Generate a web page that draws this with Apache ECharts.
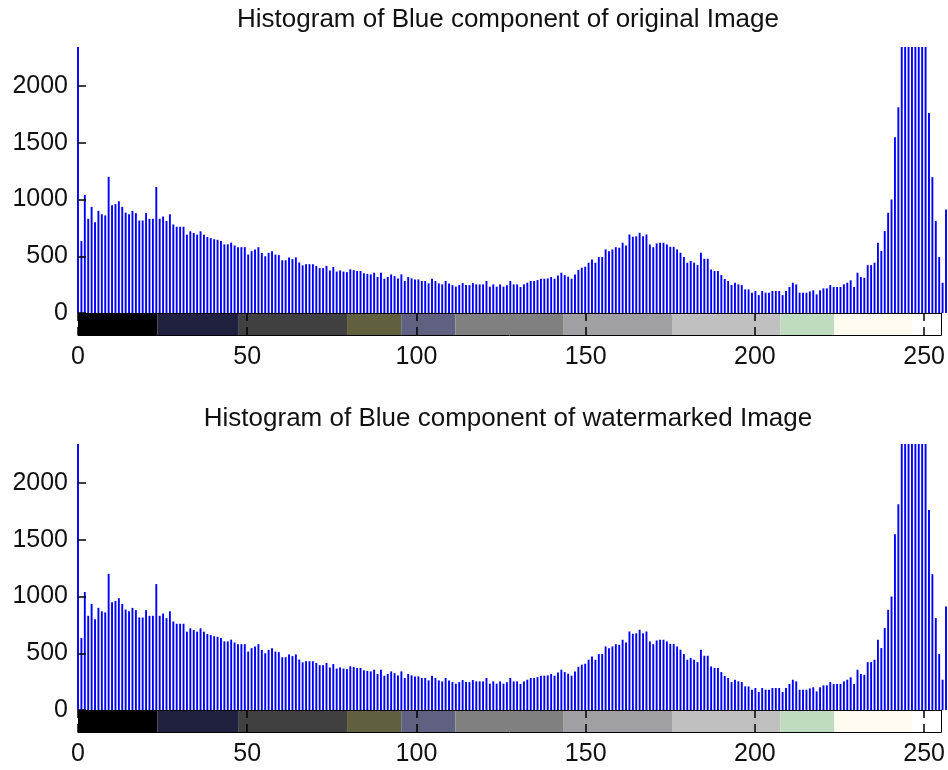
<!DOCTYPE html>
<html>
<head>
<meta charset="utf-8">
<script src="https://cdn.jsdelivr.net/npm/echarts@6/dist/echarts.min.js"></script>
<style>
  html, body { margin: 0; padding: 0; background: #fff; overflow: hidden; }
  #chart { width: 948px; height: 770px; }
</style>
</head>
<body>
<div id="chart"></div>
<script>
// Intensity levels 0..255
const levels = Array.from({ length: 256 }, (_, i) => i);

// Pixel counts per level, blue channel of the original image
const blueOriginal = [
  2600, 634, 1040, 830, 935, 800, 900, 870, 860, 1200,
  950, 960, 985, 935, 885, 870, 900, 880, 815, 815,
  880, 830, 830, 1110, 830, 850, 810, 870, 780, 760,
  760, 760, 690, 720, 705, 690, 720, 690, 670, 660,
  650, 645, 635, 605, 605, 620, 595, 580, 580, 580,
  515, 545, 560, 580, 530, 500, 530, 545, 515, 510,
  465, 465, 490, 475, 490, 445, 420, 430, 430, 430,
  415, 395, 395, 415, 375, 405, 365, 375, 365, 360,
  385, 378, 370, 370, 350, 345, 340, 355, 317, 355,
  302, 317, 340, 325, 305, 340, 282, 317, 305, 296,
  296, 282, 282, 261, 302, 282, 261, 252, 282, 261,
  246, 232, 246, 264, 246, 246, 264, 252, 252, 252,
  282, 232, 252, 232, 252, 232, 245, 282, 252, 252,
  229, 252, 267, 282, 282, 290, 302, 302, 305, 317,
  302, 330, 355, 334, 320, 302, 340, 380, 399, 408,
  443, 472, 443, 493, 493, 560, 545, 560, 580, 575,
  619, 595, 692, 672, 676, 707, 676, 692, 604, 580,
  613, 619, 619, 604, 583, 583, 560, 531, 493, 443,
  458, 443, 422, 531, 478, 478, 384, 370, 370, 334,
  300, 282, 246, 267, 252, 246, 208, 208, 179, 194,
  158, 194, 179, 179, 194, 194, 194, 158, 194, 229,
  267, 252, 179, 179, 179, 190, 200, 164, 200, 217,
  217, 246, 229, 229, 229, 252, 267, 288, 229, 355,
  317, 310, 422, 422, 443, 619, 546, 722, 883, 1000,
  1549, 1813, 2600, 2600, 2600, 2600, 2600, 2600, 2600, 2600,
  1763, 1197, 810, 493, 267, 913
];

// Pixel counts per level, blue channel of the watermarked image
const blueWatermarked = [
  2600, 634, 1040, 830, 935, 800, 900, 870, 860, 1200,
  950, 960, 985, 935, 885, 870, 900, 880, 815, 815,
  880, 830, 830, 1110, 830, 850, 810, 870, 780, 760,
  760, 760, 690, 720, 705, 690, 720, 690, 670, 660,
  650, 645, 635, 605, 605, 620, 595, 580, 580, 580,
  515, 545, 560, 580, 530, 500, 530, 545, 515, 510,
  465, 465, 490, 475, 490, 445, 420, 430, 430, 430,
  415, 395, 395, 415, 375, 405, 365, 375, 365, 360,
  385, 378, 370, 370, 350, 345, 340, 355, 317, 355,
  302, 317, 340, 325, 305, 340, 282, 317, 305, 296,
  296, 282, 282, 261, 302, 282, 261, 252, 282, 261,
  246, 232, 246, 264, 246, 246, 264, 252, 252, 252,
  282, 232, 252, 232, 252, 232, 245, 282, 252, 252,
  229, 252, 267, 282, 282, 290, 302, 302, 305, 317,
  302, 330, 355, 334, 320, 302, 340, 380, 399, 408,
  443, 472, 443, 493, 493, 560, 545, 560, 580, 575,
  619, 595, 692, 672, 676, 707, 676, 692, 604, 580,
  613, 619, 619, 604, 583, 583, 560, 531, 493, 443,
  458, 443, 422, 531, 478, 478, 384, 370, 370, 334,
  300, 282, 246, 267, 252, 246, 208, 208, 179, 194,
  158, 194, 179, 179, 194, 194, 194, 158, 194, 229,
  267, 252, 179, 179, 179, 190, 200, 164, 200, 217,
  217, 246, 229, 229, 229, 252, 267, 288, 229, 355,
  317, 310, 422, 422, 443, 619, 546, 722, 883, 1000,
  1549, 1813, 2600, 2600, 2600, 2600, 2600, 2600, 2600, 2600,
  1763, 1197, 810, 493, 267, 913
];

// Colormap strip: first level of each colour run, and its colour
const mapRunStart = [0, 24, 48, 80, 96, 112, 144, 176, 208, 224, 247];
const mapRunColor = ['#000000', '#20203f', '#404040', '#60603f', '#606080',
                     '#808080', '#a0a0a4', '#c0c0c0', '#c0dcc0', '#fffbf0', '#ffffff'];

const countTicks = [0, 500, 1000, 1500, 2000];
const levelTicks = [0, 50, 100, 150, 200, 250];

const titles = [
  'Histogram of Blue component of original Image',
  'Histogram of Blue component of watermarked Image'
];

const FONT = "'Liberation Sans', Arial, Helvetica, sans-serif";
const LEVEL_MAX = 255;
const COUNT_MAX = 2344;

const chart = echarts.init(document.getElementById('chart'), null, { renderer: 'canvas' });

function stemRender(params, api) {
  const x = api.value(0);
  const v = api.value(1);
  const base = api.coord([x, 0]);
  const tip = api.coord([x, v]);
  const top = Math.max(tip[1], params.coordSys.y);
  return {
    type: 'line',
    shape: { x1: base[0], y1: base[1], x2: base[0], y2: top },
    style: { stroke: '#0000ff', lineWidth: 1.9 }
  };
}

function stripRender(params, api) {
  const a = Math.max(api.value(0) - 0.5, 0);
  const b = Math.min(api.value(1) + 0.5, LEVEL_MAX);
  const p0 = api.coord([a, 1]);
  const p1 = api.coord([b, 0]);
  return {
    type: 'rect',
    shape: { x: p0[0], y: p0[1], width: p1[0] - p0[0], height: p1[1] - p0[1] },
    style: { fill: mapRunColor[api.value(2)] }
  };
}

const stripData = mapRunStart.map((s, k) => [
  s, k + 1 < mapRunStart.length ? mapRunStart[k + 1] - 1 : LEVEL_MAX, k
]);

const panels = [
  { counts: blueOriginal, top: 47, stripTop: 313, titleTop: 2 },
  { counts: blueWatermarked, top: 444, stripTop: 710, titleTop: 401 }
];

const grid = [], xAxis = [], yAxis = [], series = [], title = [];
const boxLine = { show: true, onZero: false, lineStyle: { color: '#000', width: 1 } };
const inTick = { show: true, inside: true, length: 8, customValues: levelTicks, lineStyle: { color: '#000', width: 1.5 } };
const plain = v => String(v);

panels.forEach((p, k) => {
  const gStem = grid.length;
  grid.push({ left: 78, right: 2, top: p.top, height: p.stripTop - p.top });
  const gStrip = grid.length;
  grid.push({ left: 78, right: 2, top: p.stripTop, height: 22 });

  title.push({
    text: titles[k], left: 503, top: p.titleTop, textAlign: 'center',
    textStyle: { fontFamily: FONT, fontSize: 26, fontWeight: 'normal', color: '#111' }
  });

  // histogram axes
  const xs = xAxis.length;
  xAxis.push({ gridIndex: gStem, type: 'value', min: 0, max: LEVEL_MAX, show: false });
  const ys = yAxis.length;
  yAxis.push({
    gridIndex: gStem, type: 'value', min: 0, max: COUNT_MAX, z: 10,
    axisLine: { show: false },
    axisTick: { show: true, inside: true, length: 8, customValues: countTicks, lineStyle: { color: '#000', width: 1.5 } },
    axisLabel: { customValues: countTicks, formatter: plain, fontFamily: FONT, fontSize: 25, color: '#111', margin: 10 },
    splitLine: { show: false }
  });

  // colormap strip axes (boxed, ticks inward top and bottom)
  const xb = xAxis.length;
  xAxis.push({
    gridIndex: gStrip, type: 'value', min: 0, max: LEVEL_MAX, position: 'bottom', z: 10,
    axisLine: boxLine, axisTick: inTick,
    axisLabel: { customValues: levelTicks, formatter: plain, fontFamily: FONT, fontSize: 25, color: '#111', margin: 10 },
    splitLine: { show: false }
  });
  xAxis.push({
    gridIndex: gStrip, type: 'value', min: 0, max: LEVEL_MAX, position: 'top', z: 10,
    axisLine: boxLine, axisTick: inTick,
    axisLabel: { show: false }, splitLine: { show: false }
  });
  const yb = yAxis.length;
  yAxis.push({
    gridIndex: gStrip, type: 'value', min: 0, max: 1, position: 'left', z: 10,
    axisLine: boxLine, axisTick: { show: false }, axisLabel: { show: false }, splitLine: { show: false }
  });
  yAxis.push({
    gridIndex: gStrip, type: 'value', min: 0, max: 1, position: 'right', z: 10,
    axisLine: boxLine, axisTick: { show: false }, axisLabel: { show: false }, splitLine: { show: false }
  });

  series.push({
    type: 'custom', xAxisIndex: xs, yAxisIndex: ys, renderItem: stemRender,
    data: levels.map((lv, i) => [lv, p.counts[i]]), silent: true, animation: false
  });
  series.push({
    type: 'custom', xAxisIndex: xb, yAxisIndex: yb, renderItem: stripRender,
    data: stripData, silent: true, animation: false, z: 1
  });
});

chart.setOption({ animation: false, backgroundColor: '#fff', title, grid, xAxis, yAxis, series });
</script>
</body>
</html>
